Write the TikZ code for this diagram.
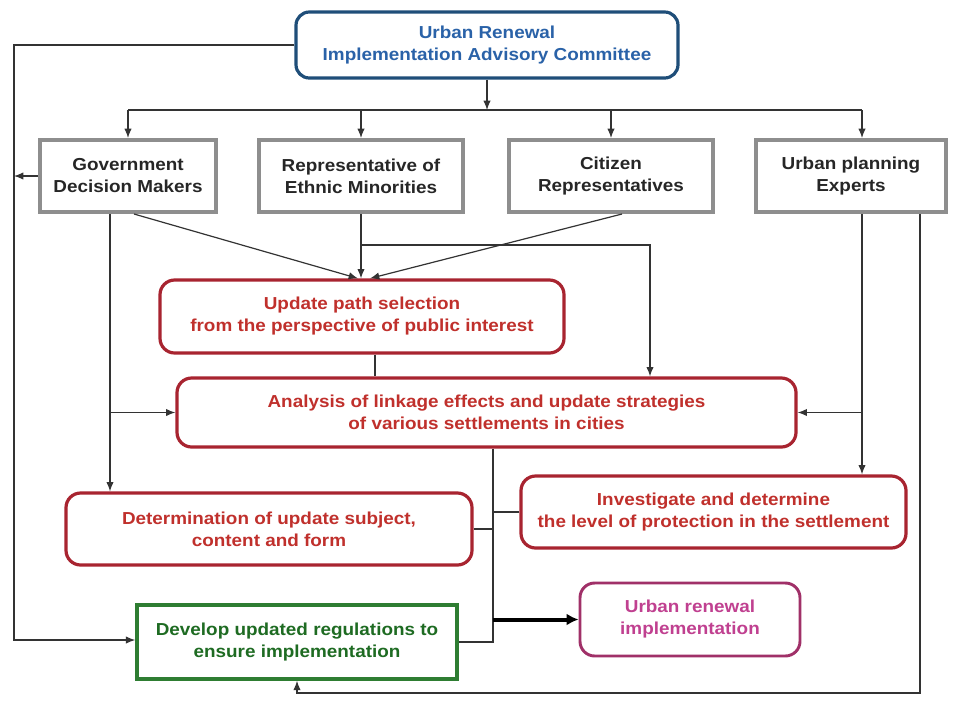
\documentclass[tikz,border=0pt]{standalone}
\usepackage{fontspec}
\setmainfont[FakeStretch=1.09]{Liberation Sans}
\usetikzlibrary{arrows.meta,calc}
\definecolor{cblue}{HTML}{1F4E79}
\definecolor{tblue}{HTML}{2A62A8}
\definecolor{cgray}{HTML}{8E8E8E}
\definecolor{tgray}{HTML}{262626}
\definecolor{cred}{HTML}{A82430}
\definecolor{tred}{HTML}{C0302C}
\definecolor{cmag}{HTML}{A03068}
\definecolor{tmag}{HTML}{C04090}
\definecolor{cgreen}{HTML}{2E7D32}
\definecolor{tgreen}{HTML}{1E6B22}
\definecolor{cline}{HTML}{333333}
\tikzset{
  base/.style={align=center,font=\bfseries\fontsize{13}{16.5}\selectfont,inner sep=2pt},
  combox/.style={base,draw=cblue,line width=2.4pt,rounded corners=10pt,text=tblue,fill=white},
  graybox/.style={base,draw=cgray,line width=3pt,text=tgray,fill=white},
  redbox/.style={base,draw=cred,line width=2.4pt,rounded corners=11pt,text=tred,fill=white},
  magbox/.style={base,draw=cmag,line width=2.2pt,rounded corners=11pt,text=tmag,fill=white},
  greenbox/.style={base,draw=cgreen,line width=2.6pt,text=tgreen,fill=white},
  conn/.style={draw=cline,line width=0.9pt},
  arr/.style={conn,-{Latex[length=7pt,width=5.5pt]}},
  bigarr/.style={draw=black,line width=3pt,-{Latex[length=9pt,width=9pt]}}
}
\begin{document}
\begin{tikzpicture}[x=0.75pt,y=-0.75pt]
\useasboundingbox (0,0) rectangle (956,704);
\fill[white] (0,0) rectangle (956,704);
% nodes
\node[combox,minimum width=286.5pt,minimum height=49.5pt] (com) at (487,45) {Urban Renewal\\Implementation Advisory Committee};
\node[graybox,minimum width=132pt,minimum height=54pt] (gov) at (128,176) {Government\\Decision Makers};
\node[graybox,minimum width=153pt,minimum height=54pt] (rep) at (361,176) {Representative of\\Ethnic Minorities};
\node[graybox,minimum width=153pt,minimum height=54pt] (cit) at (611,176) {Citizen\\Representatives};
\node[graybox,minimum width=142.5pt,minimum height=54pt] (exp) at (851,176) {Urban planning\\Experts};
\node[redbox,minimum width=303pt,minimum height=54.75pt] (upd) at (362,316.5) {Update path selection\\from the perspective of public interest};
\node[redbox,minimum width=464.25pt,minimum height=51.75pt] (ana) at (486.5,412.5) {Analysis of linkage effects and update strategies\\of various settlements in cities};
\node[redbox,minimum width=304.5pt,minimum height=54pt] (det) at (269,529) {Determination of update subject,\\content and form};
\node[redbox,minimum width=288.75pt,minimum height=54pt] (inv) at (713.5,512) {Investigate and determine\\the level of protection in the settlement};
\node[magbox,minimum width=165pt,minimum height=54.75pt] (urb) at (690,619.5) {Urban renewal\\implementation};
\node[greenbox,minimum width=240pt,minimum height=55.5pt] (grn) at (297,642) {Develop updated regulations to\\ensure implementation};
% helper coordinates
\coordinate (bus) at (487,110);
\coordinate (L1) at (14,45);
\coordinate (L2) at (14,640);
\coordinate (ex) at (862,0);
\coordinate (ey) at (920,0);
\coordinate (bt) at (0,693);
\coordinate (gv) at (110,0);
\coordinate (rb) at (0,245);
\coordinate (ab) at (650,0);
\coordinate (ux) at (375,0);
\coordinate (hx) at (493,0);
\coordinate (hb) at (493,643);
% top distribution
\draw[arr] (com.south) -- (bus);
\draw[conn] (gov.north |- bus) -- (ex |- bus);
\draw[arr] (gov.north |- bus) -- (gov.north);
\draw[arr] (rep.north |- bus) -- (rep.north);
\draw[arr] (cit.north |- bus) -- (cit.north);
\draw[arr] (ex |- bus) -- (ex |- exp.north);
% left feedback line
\draw[arr] (com.west) -- (L1) -- (L2) -- (L2 -| grn.west);
\draw[arr] (gov.west) -- (gov.west -| L1);
% into update path
\draw[arr] ($(gov.south)+(6,0)$) -- ($(upd.north)+(-4,0)$);
\draw[arr] ($(cit.south)+(11,0)$) -- ($(upd.north)+(8,0)$);
\draw[arr] (rep.south) -- (rep.south |- upd.north);
\draw[arr] (rep.south |- rb) -- (ab |- rb) -- (ab |- ana.north);
\draw[conn] (ux |- upd.south) -- (ux |- ana.north);
% government vertical
\draw[arr] (gv |- gov.south) -- (gv |- det.north);
\draw[arr] (gv |- ana.west) -- (ana.west);
% experts verticals
\draw[arr] (ex |- exp.south) -- (ex |- inv.north);
\draw[arr] (ex |- ana.east) -- (ana.east);
\draw[arr] (ey |- exp.south) -- (ey |- bt) -- (grn.south |- bt) -- (grn.south);
% hub
\draw[conn] (hx |- ana.south) -- (hb);
\draw[conn] (grn.east) -- (grn.east -| hx);
\draw[conn] (det.east) -- (det.east -| hx);
\draw[conn] (inv.west) -- (inv.west -| hx);
\draw[bigarr] (urb.west -| hx) -- (urb.west);
\end{tikzpicture}
\end{document}
